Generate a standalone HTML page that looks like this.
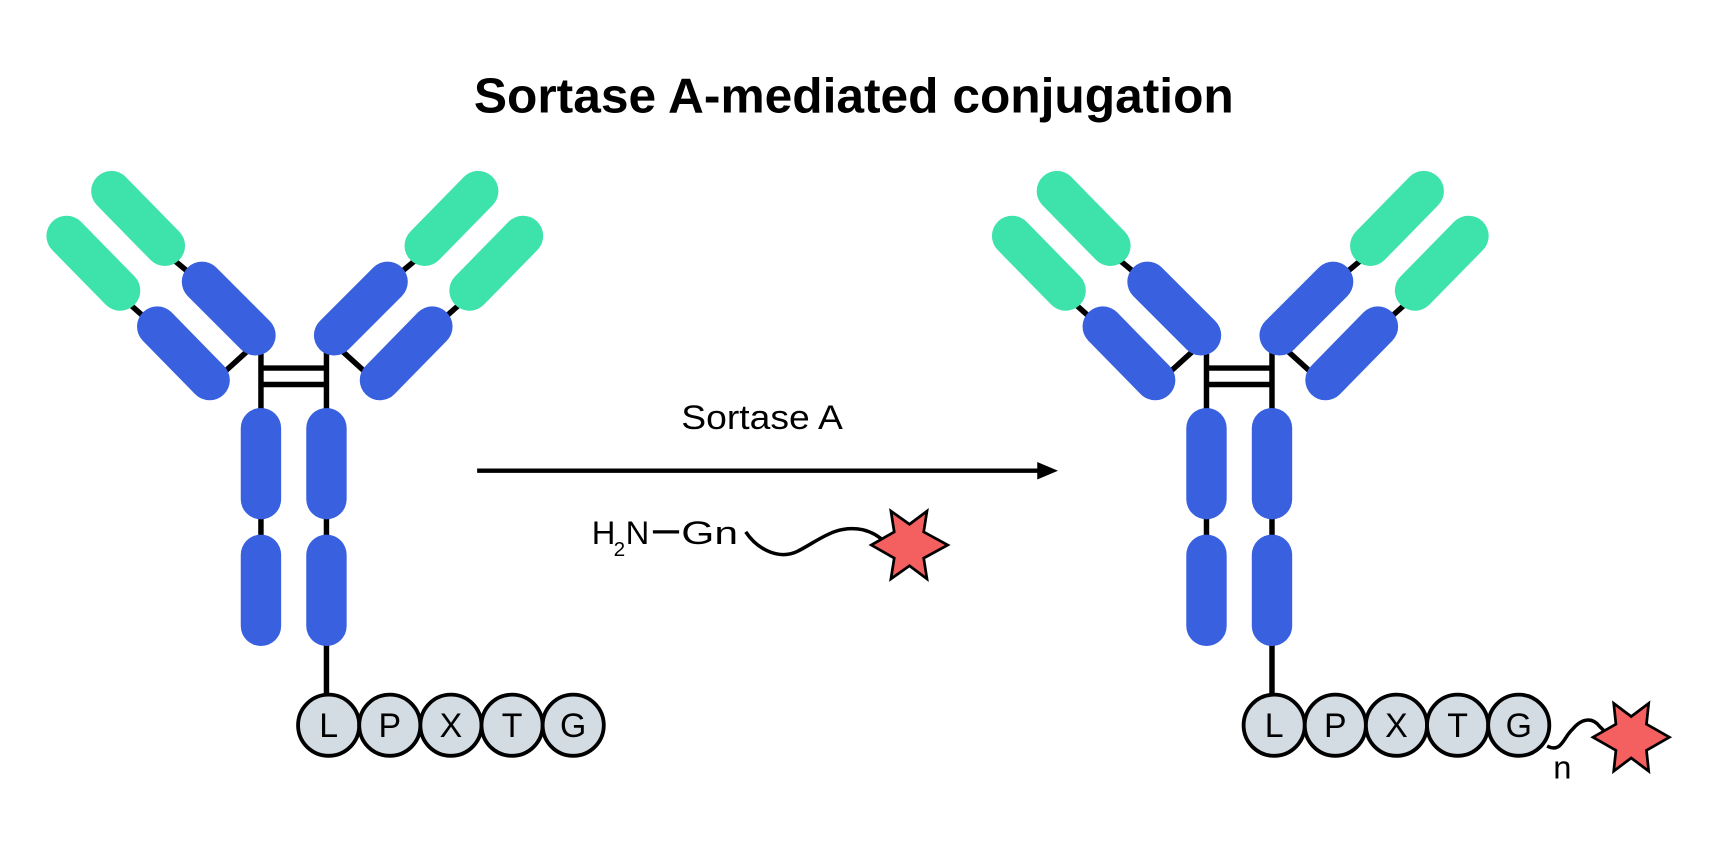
<!DOCTYPE html>
<html><head><meta charset="utf-8"><style>
html,body{margin:0;padding:0;background:#fff}
svg{display:block}
text{font-family:"Liberation Sans",sans-serif;fill:#000}
</style></head><body>
<svg width="1712" height="841" viewBox="0 0 1568 770" preserveAspectRatio="none" xmlns="http://www.w3.org/2000/svg">
<defs>
<g id="arm">
  <g stroke="#000" stroke-width="5">
    <line x1="158" y1="237" x2="176" y2="252"/>
    <line x1="116" y1="276" x2="134" y2="292"/>
    <line x1="204" y1="342" x2="226" y2="322"/>
  </g>
  <g stroke-width="37" stroke-linecap="round" fill="none">
    <line x1="102" y1="175" x2="151" y2="225" stroke="#3EE3AC"/>
    <line x1="61" y1="216" x2="110" y2="266" stroke="#3EE3AC"/>
    <line x1="185" y1="258" x2="234" y2="307" stroke="#3860DF"/>
    <line x1="144" y1="299" x2="192" y2="348" stroke="#3860DF"/>
  </g>
</g>
<g id="ab">
  <g stroke="#000" stroke-width="5" fill="none">
    <line x1="239" y1="318" x2="239" y2="400"/>
    <line x1="299" y1="318" x2="299" y2="400"/>
    <line x1="237" y1="337" x2="301" y2="337"/>
    <line x1="237" y1="352" x2="301" y2="352"/>
    <line x1="239" y1="455" x2="239" y2="510"/>
    <line x1="299" y1="455" x2="299" y2="510"/>
    <line x1="299" y1="570" x2="299" y2="638"/>
  </g>
  <use href="#arm"/>
  <use href="#arm" transform="translate(540,0) scale(-1,1)"/>
  <g stroke="#3860DF" stroke-width="37" stroke-linecap="round">
    <line x1="239" y1="392" x2="239" y2="457"/>
    <line x1="299" y1="392" x2="299" y2="457"/>
    <line x1="239" y1="508" x2="239" y2="573"/>
    <line x1="299" y1="508" x2="299" y2="573"/>
  </g>
  <g fill="#D3DCE3" stroke="#000" stroke-width="3.5">
    <circle cx="301" cy="664" r="28"/>
    <circle cx="357" cy="664" r="28"/>
    <circle cx="413" cy="664" r="28"/>
    <circle cx="469" cy="664" r="28"/>
    <circle cx="525" cy="664" r="28"/>
  </g>
</g>
</defs>

<text x="782" y="103" text-anchor="middle" font-size="45" font-weight="bold" textLength="696" lengthAdjust="spacingAndGlyphs">Sortase A-mediated conjugation</text>

<use href="#ab"/>
<use href="#ab" transform="translate(866,0)"/>

<g font-size="31" text-anchor="middle">
  <text x="301" y="675">L</text><text x="357" y="675">P</text><text x="413" y="675">X</text><text x="469" y="675">T</text><text x="525" y="675">G</text>
  <text x="1167" y="675">L</text><text x="1223" y="675">P</text><text x="1279" y="675">X</text><text x="1335" y="675">T</text><text x="1391" y="675">G</text>
</g>

<!-- arrow -->
<line x1="437" y1="431" x2="952" y2="431" stroke="#000" stroke-width="4"/>
<polygon points="950,423 969,431 950,439" fill="#000"/>
<text x="698" y="393" text-anchor="middle" font-size="31" textLength="148" lengthAdjust="spacingAndGlyphs">Sortase A</text>

<!-- H2N-Gn -->
<text x="542" y="498" font-size="30">H</text>
<text x="562" y="509" font-size="19">2</text>
<text x="573" y="498" font-size="30">N</text>
<line x1="598" y1="487" x2="622" y2="487" stroke="#000" stroke-width="3"/>
<text x="624" y="498" font-size="30" textLength="52" lengthAdjust="spacingAndGlyphs">Gn</text>
<path d="M683,487 C695,505 715,512 730,505 C750,495 765,480 790,485 Q802,488 810,496" fill="none" stroke="#000" stroke-width="3.2"/>
<polygon points="868,499 846,511 849,530 833,518 816,530 819,511 798,499 819,487 816,468 833,480 849,468 846,487" fill="#F45F5F" stroke="#000" stroke-width="2.5"/>

<!-- right side conjugate -->
<path d="M1417,683 C1430,690 1432,675 1440,668 C1448,658 1458,656 1465,665 L1470,670" fill="none" stroke="#000" stroke-width="3.2"/>
<polygon points="1529,675 1508,687 1510,706 1494,694 1478,706 1480,687 1459,675 1480,663 1478,644 1494,656 1510,644 1508,663" fill="#F45F5F" stroke="#000" stroke-width="2.5"/>
<text x="1431" y="713" text-anchor="middle" font-size="30">n</text>
</svg>
</body></html>
